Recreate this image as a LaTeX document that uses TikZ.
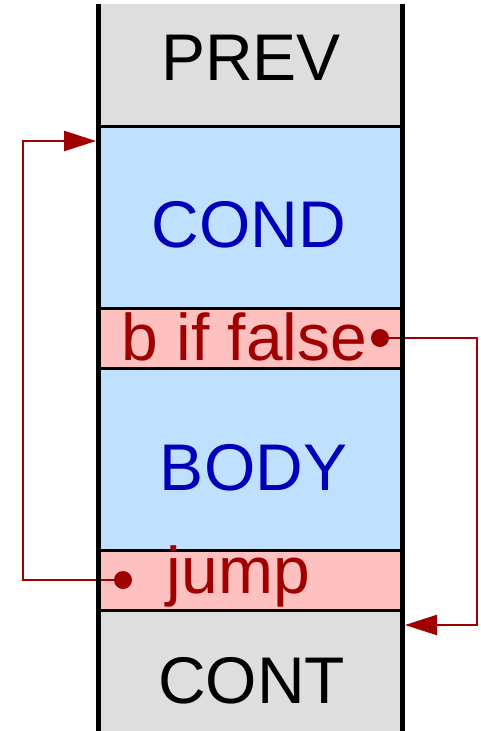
\documentclass[tikz,border=0pt]{standalone}
\usepackage{fontspec}
\setmainfont{Liberation Sans}
\usetikzlibrary{arrows.meta}
\definecolor{boxgray}{HTML}{DEDEDE}
\definecolor{boxblue}{HTML}{BFE0FF}
\definecolor{boxpink}{HTML}{FFC0C0}
\definecolor{linkred}{HTML}{A00000}
\definecolor{textblue}{HTML}{0000BB}
\begin{document}
\begin{tikzpicture}[x=1pt,y=-1pt,
  region/.style={rectangle, inner sep=0pt, outer sep=0pt, minimum width=303.5pt},
  lbl/.style={anchor=base, inner sep=0pt, font=\fontsize{66pt}{70pt}\selectfont},
  conn/.style={draw=linkred, line width=2.5pt},
  tipped/.style={-{Triangle[length=32pt,width=20pt]}},
  sep/.style={line width=3pt},
  rail/.style={line width=5pt},
  dotmark/.style={circle, fill=linkred, inner sep=0pt, minimum size=18pt}]
\useasboundingbox (0,0) rectangle (481,731);
% regions
\node[region, fill=boxgray, minimum height=122pt] (prev) at (250.25,65) {};
\node[region, fill=boxblue, minimum height=182pt] (cond) at (250.25,217) {};
\node[region, fill=boxpink, minimum height=60pt] (bif) at (250.25,338) {};
\node[region, fill=boxblue, minimum height=182pt] (body) at (250.25,459) {};
\node[region, fill=boxpink, minimum height=60pt] (jump) at (250.25,580) {};
\node[region, fill=boxgray, minimum height=121pt] (cont) at (250.25,670.5) {};
% dots and connector ends
\node[dotmark] (dotf) at (380,338) {};
\node[dotmark] (dotj) at (123,580) {};
\coordinate (tipL) at (96,141);
\coordinate (cornL) at (23,580);
\coordinate (tipR) at (405,625);
\coordinate (cornR) at (477,625);
% connectors
\draw[conn, tipped] (dotj.center) -- (cornL) |- (tipL);
\draw[conn, tipped] (dotf.center) -| (cornR) -- (tipR);
% separators
\draw[sep] (prev.south west) -- (prev.south east);
\draw[sep] (cond.south west) -- (cond.south east);
\draw[sep] (bif.south west) -- (bif.south east);
\draw[sep] (body.south west) -- (body.south east);
\draw[sep] (jump.south west) -- (jump.south east);
% rails
\draw[rail] (prev.north west) -- (cont.south west);
\draw[rail] (prev.north east) -- (cont.south east);
% labels
\node[lbl] (tprev) at (251,80) {PREV};
\node[lbl, text=textblue] (tcond) at (249,247) {COND};
\node[lbl, text=linkred] (tbif) at (244.5,360) {b if false};
\node[lbl, text=textblue] (tbody) at (253.5,490) {BODY};
\node[lbl, text=linkred] (tjump) at (238.5,593) {jump};
\node[lbl] (tcont) at (251.5,703) {CONT};
\end{tikzpicture}
\end{document}
